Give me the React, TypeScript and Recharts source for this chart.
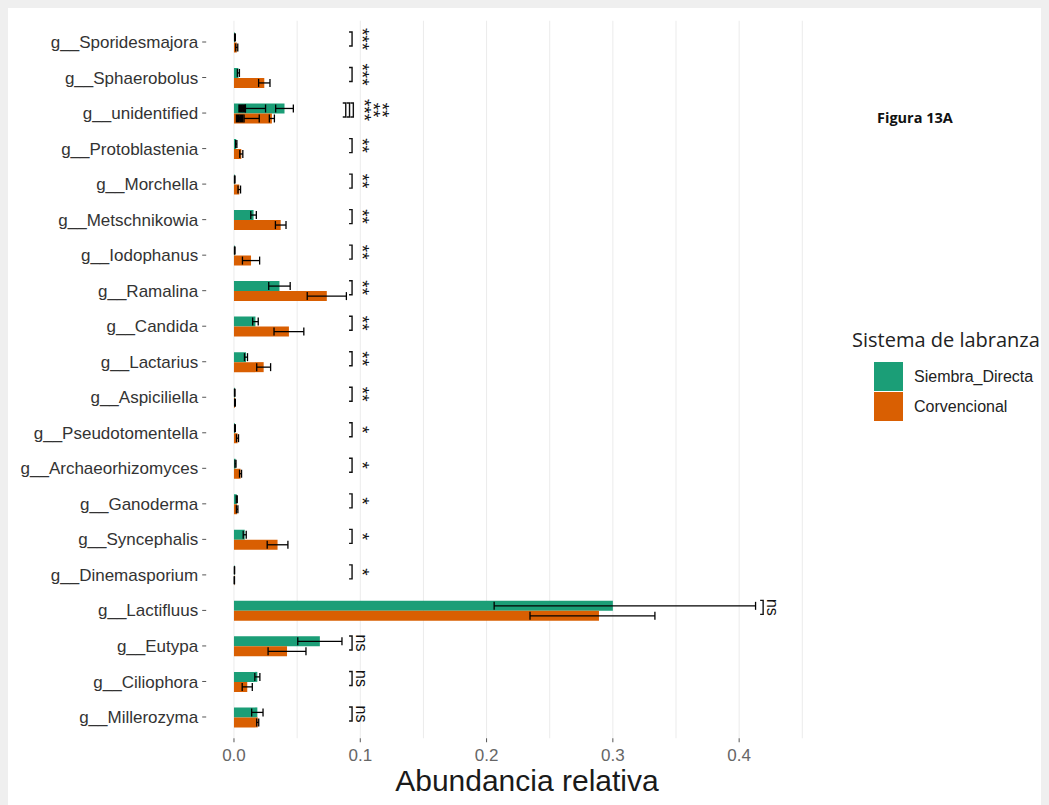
import React from "react";
import {
  Bar,
  CartesianGrid,
  ComposedChart,
  ErrorBar,
  ReferenceDot,
  XAxis,
  YAxis,
} from "recharts";

// genus order, top to bottom
const categories = [
  "g__Sporidesmajora",
  "g__Sphaerobolus",
  "g__unidentified",
  "g__Protoblastenia",
  "g__Morchella",
  "g__Metschnikowia",
  "g__Iodophanus",
  "g__Ramalina",
  "g__Candida",
  "g__Lactarius",
  "g__Aspiciliella",
  "g__Pseudotomentella",
  "g__Archaeorhizomyces",
  "g__Ganoderma",
  "g__Syncephalis",
  "g__Dinemasporium",
  "g__Lactifluus",
  "g__Eutypa",
  "g__Ciliophora",
  "g__Millerozyma",
];

const siembraMean = [
  0.0008, 0.0035, 0.04, 0.0018, 0.0006, 0.0155, 0.0006, 0.036, 0.017, 0.0095,
  0.0006, 0.0008, 0.0012, 0.0022, 0.0085, 0.0004, 0.3, 0.068, 0.0185, 0.0185,
];
// [below, above] the mean
const siembraErr: (number | [number, number])[] = [
  0.0003, 0.0008, 0.007, 0.0005, 0.0002, 0.0022, 0.0002, 0.0085, 0.0022, 0.0012,
  0.0002, 0.0003, 0.0004, 0.0004, 0.0012, 0.0001, [0.094, 0.113], 0.0175, 0.002,
  0.0045,
];
const convMean = [
  0.0022, 0.024, 0.03, 0.0058, 0.0042, 0.037, 0.0135, 0.0735, 0.0435, 0.0235,
  0.0008, 0.0028, 0.0052, 0.0025, 0.0345, 0.0003, 0.289, 0.042, 0.0105, 0.0188,
];
const convErr: (number | [number, number])[] = [
  0.0008, 0.0045, 0.002, 0.0012, 0.001, 0.0042, 0.0068, 0.0155, 0.0118, 0.0055,
  0.0003, 0.0008, 0.0008, 0.0006, 0.0082, 0.0001, [0.0546, 0.0443], 0.015, 0.004,
  0.0008,
];

// "unidentified" pools several genera, so extra overlapping error bars show up
const unidSiembraExtra: [number, number][] = [
  [0.031, -0.015],
  [0.035, -0.032],
];
const unidConvExtra: [number, number][] = [
  [0.022, -0.01],
  [0.027, -0.024],
];

// significance brackets (position in x units) and labels
const sigCats = [
  "g__Sporidesmajora",
  "g__Sphaerobolus",
  "g__unidentified",
  "g__unidentified",
  "g__unidentified",
  "g__Protoblastenia",
  "g__Morchella",
  "g__Metschnikowia",
  "g__Iodophanus",
  "g__Ramalina",
  "g__Candida",
  "g__Lactarius",
  "g__Aspiciliella",
  "g__Pseudotomentella",
  "g__Archaeorhizomyces",
  "g__Ganoderma",
  "g__Syncephalis",
  "g__Dinemasporium",
  "g__Lactifluus",
  "g__Eutypa",
  "g__Ciliophora",
  "g__Millerozyma",
];
const sigPos = [
  0.0935, 0.0935, 0.0885, 0.0915, 0.0945, 0.0935, 0.0935, 0.0935, 0.0935,
  0.0935, 0.0935, 0.0935, 0.0935, 0.0935, 0.0935, 0.0935, 0.0935, 0.0935,
  0.419, 0.0935, 0.0935, 0.0935,
];
const sigLabels = [
  "***", "***", "***", "**", "**", "**", "**", "**", "**", "**", "**", "**",
  "**", "*", "*", "*", "*", "*", "ns", "ns", "ns", "ns",
];

const xTicks = [0, 0.1, 0.2, 0.3, 0.4];
const gridValues = [0, 0.05, 0.1, 0.15, 0.2, 0.25, 0.3, 0.35, 0.4, 0.45];

const seriesNames = ["Siembra_Directa", "Corvencional"];
const seriesColors = ["#1b9e77", "#d95f02"];

const data = categories.map((name, i) => {
  const unid = name === "g__unidentified";
  return {
    name,
    sd: siembraMean[i],
    sdErr: siembraErr[i],
    cv: convMean[i],
    cvErr: convErr[i],
    sdX1: unid ? unidSiembraExtra[0] : undefined,
    sdX2: unid ? unidSiembraExtra[1] : undefined,
    cvX1: unid ? unidConvExtra[0] : undefined,
    cvX2: unid ? unidConvExtra[1] : undefined,
  };
});

const sigRows = sigCats.map((cat, i) => ({
  cat,
  pos: sigPos[i],
  label: sigLabels[i],
  k: sigCats.slice(0, i).filter((c) => c === cat).length,
  n: sigCats.filter((c) => c === cat).length,
}));

const FONT = "'Liberation Sans', Arial, sans-serif";

function SigMark(props: any) {
  const { cx, cy, label, k, n } = props;
  if (cx == null || cy == null) return <g />;
  const top = cy - 10;
  const bot = cy + 4;
  const stars = label.includes("*");
  const lx = cx + (stars ? 10 : 9) + (n - 1 - k) * 4.6 + k * 9.8;
  const ly = cy - 3;
  return (
    <g>
      <path
        d={`M${cx - 3},${top} L${cx},${top} L${cx},${bot} L${cx - 3},${bot}`}
        fill="none"
        stroke="#111"
        strokeWidth={1.4}
      />
      <text
        x={lx}
        y={ly}
        transform={`rotate(90 ${lx} ${ly})`}
        textAnchor="middle"
        dominantBaseline="central"
        fontFamily={FONT}
        fontSize={stars ? 19 : 16}
        fill="#111"
      >
        {label}
      </text>
    </g>
  );
}

if (typeof document !== "undefined") {
  document.body.style.background = "#efefef";
}

export default function App() {
  return (
    <div
      style={{
        position: "relative",
        width: 1041,
        height: 797,
        background: "#fff",
        fontFamily: FONT,
      }}
    >
      <ComposedChart
        width={1041}
        height={797}
        layout="vertical"
        data={data}
        margin={{ top: 12.74, right: 226.5, bottom: 36.74, left: 0 }}
        barCategoryGap="23%"
        barGap={0}
      >
        <CartesianGrid
          horizontal={false}
          verticalValues={gridValues}
          stroke="#ebebeb"
        />
        <XAxis
          type="number"
          domain={[-0.022, 0.466]}
          allowDataOverflow
          ticks={xTicks}
          tickFormatter={(v: number) => v.toFixed(1)}
          axisLine={false}
          tickSize={4}
          tickMargin={7}
          tickLine={{ stroke: "#555" }}
          tick={{ fill: "#666", fontSize: 17, fontFamily: FONT }}
          height={30}
          label={{
            value: "Abundancia relativa",
            position: "bottom",
            offset: 1,
            dx: 12.6,
            fontSize: 30,
            fill: "#1a1a1a",
            fontFamily: FONT,
          }}
        />
        <YAxis
          type="category"
          dataKey="name"
          width={198.2}
          padding={{ top: 3.5, bottom: 3.5 }}
          axisLine={false}
          tickSize={4}
          tickMargin={4}
          tickLine={{ stroke: "#555" }}
          tick={{ fill: "#333", fontSize: 17, fontFamily: FONT }}
          interval={0}
        />
        <Bar
          dataKey="sd"
          name={seriesNames[0]}
          fill={seriesColors[0]}
          isAnimationActive={false}
        >
          <ErrorBar dataKey="sdErr" direction="x" width={4} stroke="#000" strokeWidth={1.3} />
          <ErrorBar dataKey="sdX1" direction="x" width={4} stroke="#000" strokeWidth={1.3} />
          <ErrorBar dataKey="sdX2" direction="x" width={4} stroke="#000" strokeWidth={4} />
        </Bar>
        <Bar
          dataKey="cv"
          name={seriesNames[1]}
          fill={seriesColors[1]}
          isAnimationActive={false}
        >
          <ErrorBar dataKey="cvErr" direction="x" width={4} stroke="#000" strokeWidth={1.3} />
          <ErrorBar dataKey="cvX1" direction="x" width={4} stroke="#000" strokeWidth={1.3} />
          <ErrorBar dataKey="cvX2" direction="x" width={4} stroke="#000" strokeWidth={4} />
        </Bar>
        {sigRows.map((s, i) => (
          <ReferenceDot
            key={i}
            x={s.pos}
            y={s.cat}
            r={1}
            ifOverflow="visible"
            shape={(p: any) => <SigMark {...p} label={s.label} k={s.k} n={s.n} />}
          />
        ))}
      </ComposedChart>

      <div
        style={{
          position: "absolute",
          left: 869,
          top: 100,
          fontFamily: "'Open Sans', sans-serif",
          fontWeight: 700,
          fontSize: 14.5,
          color: "#111",
        }}
      >
        Figura 13A
      </div>

      <div style={{ position: "absolute", left: 844, top: 318 }}>
        <div
          style={{
            fontFamily: "'Open Sans', sans-serif",
            fontSize: 20,
            color: "#222",
            lineHeight: "28px",
            marginBottom: 8,
            whiteSpace: "nowrap",
          }}
        >
          Sistema de labranza
        </div>
        {seriesNames.map((n, i) => (
          <div
            key={n}
            style={{
              display: "flex",
              alignItems: "center",
              marginLeft: 22,
              marginBottom: 1,
              height: 29,
            }}
          >
            <div
              style={{
                width: 29,
                height: 29,
                background: seriesColors[i],
              }}
            />
            <span
              style={{
                marginLeft: 11,
                fontFamily: FONT,
                fontSize: 16,
                color: "#222",
                whiteSpace: "nowrap",
              }}
            >
              {n}
            </span>
          </div>
        ))}
      </div>
    </div>
  );
}
